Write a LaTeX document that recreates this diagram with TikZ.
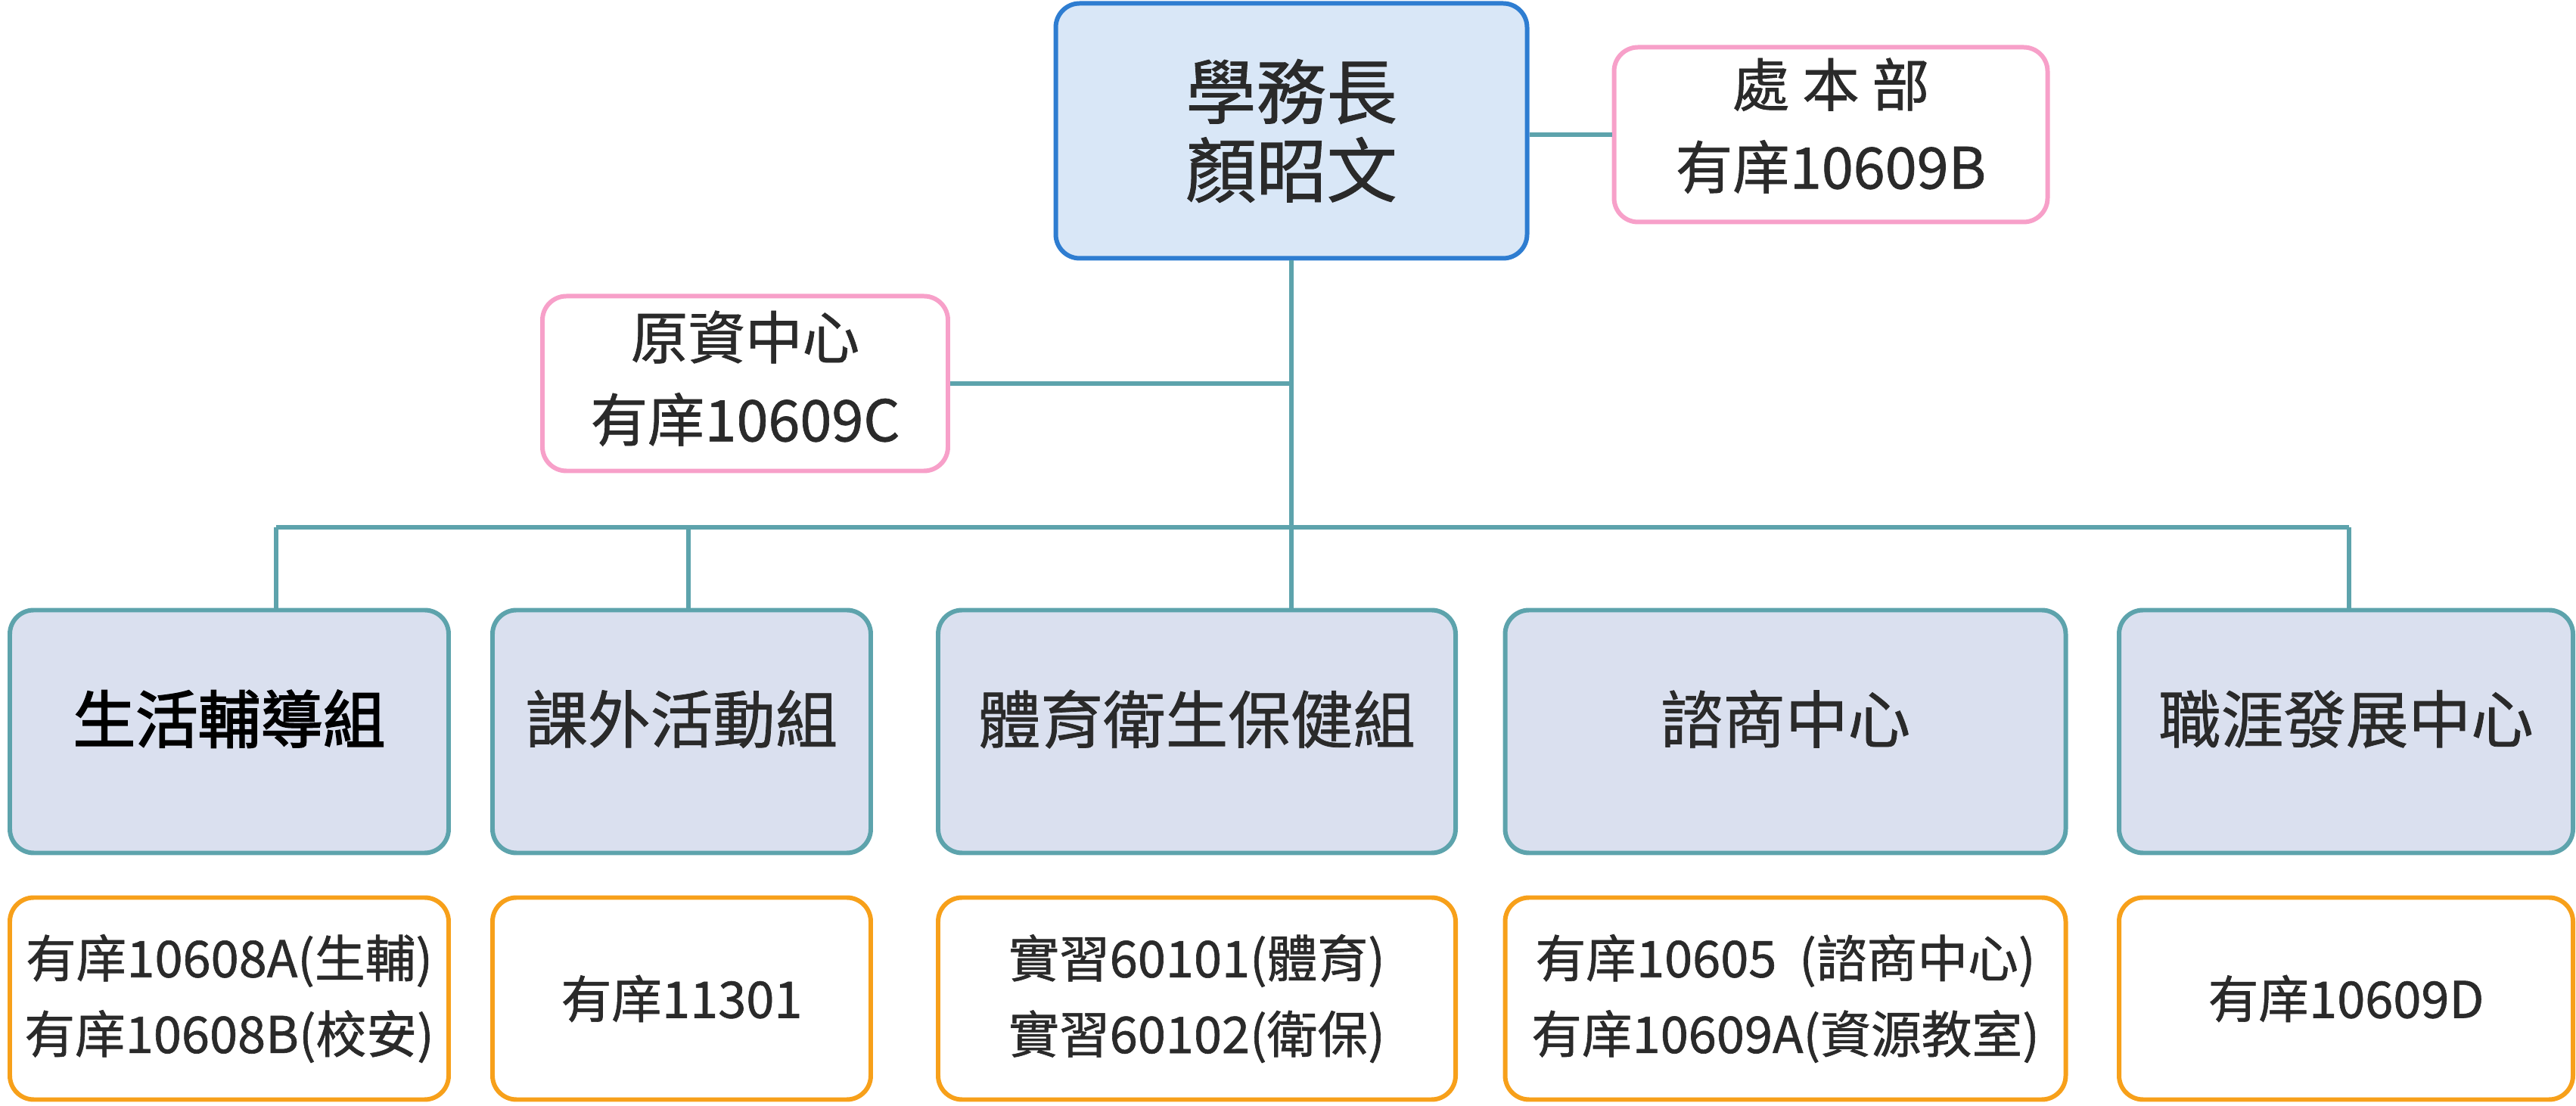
\documentclass[tikz,border=0pt]{standalone}
\usepackage{fontspec}
\setmainfont{Noto Sans CJK TC}[FakeBold=0.9]
\newfontfamily\heavyfont{Noto Sans CJK TC}[FakeBold=2.2]
\usepackage{tikz}

\definecolor{deanfill}{HTML}{D9E7F7}
\definecolor{deanline}{HTML}{2E7DD1}
\definecolor{pinkline}{HTML}{F7A0C9}
\definecolor{linkteal}{HTML}{5DA3AC}
\definecolor{unitfill}{HTML}{DAE0EF}
\definecolor{orangeline}{HTML}{F7A01A}
\definecolor{txtgray}{HTML}{2A2A2A}

\begin{document}
\begin{tikzpicture}[
    every node/.style={align=center, text=txtgray, inner sep=0pt},
    box/.style={line width=1.7pt, rounded corners=9pt},
    dean/.style={box, draw=deanline, fill=deanfill, minimum width=6.23cm, minimum height=3.37cm, font=\fontsize{26.5}{29.5}\selectfont},
    side/.style={box, draw=pinkline, fill=white, minimum height=2.31cm, text depth=0.3cm, font=\fontsize{21.5}{31}\selectfont},
    unit/.style={box, draw=linkteal, fill=unitfill, minimum height=3.21cm, text depth=0.4cm, font=\fontsize{23.5}{26}\selectfont},
    room/.style={box, draw=orangeline, fill=white, minimum height=2.67cm, font=\fontsize{19}{28.5}\selectfont},
    link/.style={draw=linkteal, line width=1.7pt}
]
    \useasboundingbox (0,0) rectangle (34.05,-14.62);
    % Nodes
    \node[dean] (dean) at (17.07,-1.73) {學務長\\顏昭文};
    \node[side, minimum width=5.73cm] (office) at (24.2,-1.78) {處 本 部\\有庠10609B};
    \node[side, minimum width=5.36cm, text depth=0.2cm] (ind) at (9.85,-5.07) {原資中心\\有庠10609C};
    \node[unit, minimum width=5.80cm, text=black, font=\fontsize{23.5}{26}\heavyfont] (life) at (3.03,-9.67) {生活輔導組};
    \node[unit, minimum width=5.00cm] (act) at (9.01,-9.67) {課外活動組};
    \node[unit, minimum width=6.84cm] (sport) at (15.82,-9.67) {體育衛生保健組};
    \node[unit, minimum width=7.41cm] (couns) at (23.60,-9.67) {諮商中心};
    \node[unit, minimum width=6.00cm] (career) at (31.01,-9.67) {職涯發展中心};
    \node[room, minimum width=5.80cm] (lifer) at (3.03,-13.20) {有庠10608A(生輔)\\有庠10608B(校安)};
    \node[room, minimum width=5.00cm] (actr) at (9.01,-13.20) {有庠11301};
    \node[room, minimum width=6.84cm] (sportr) at (15.82,-13.20) {實習60101(體育)\\實習60102(衛保)};
    \node[room, minimum width=7.41cm] (counsr) at (23.60,-13.20) {有庠10605\ \ (諮商中心)\\有庠10609A(資源教室)};
    \node[room, minimum width=6.00cm] (careerr) at (31.01,-13.20) {有庠10609D};
    \coordinate (hub) at (17.07,-6.97);
    \coordinate (busl) at (3.65,-6.97);
    \coordinate (busm) at (9.10,-6.97);
    \coordinate (busr) at (31.05,-6.97);
    % Edges
    \draw[link] (dean) -- (hub);
    \draw[link] (office.west) -- (office.west -| dean.east);
    \draw[link] (ind.east) -- (ind.east -| hub);
    \draw[link] (busl) -- (busr);
    \draw[link] (busl) -- (busl |- life.north);
    \draw[link] (busm) -- (busm |- act.north);
    \draw[link] (hub) -- (hub |- sport.north);
    \draw[link] (busr) -- (busr |- career.north);
\end{tikzpicture}
\end{document}
